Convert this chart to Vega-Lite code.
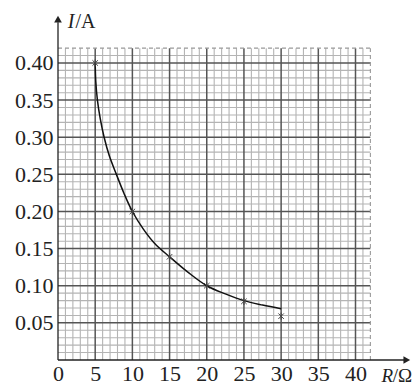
{
  "$schema": "https://vega.github.io/schema/vega-lite/v6.json",
  "autosize": "none",
  "width": 357,
  "height": 349,
  "padding": {"left": 58, "top": 11, "right": 4, "bottom": 27},
  "background": "white",
  "config": {"view": {"stroke": null}},
  "datasets": {
    "minorX": [{"v":1},{"v":2},{"v":3},{"v":4},{"v":6},{"v":7},{"v":8},{"v":9},{"v":11},{"v":12},{"v":13},{"v":14},{"v":16},{"v":17},{"v":18},{"v":19},{"v":21},{"v":22},{"v":23},{"v":24},{"v":26},{"v":27},{"v":28},{"v":29},{"v":31},{"v":32},{"v":33},{"v":34},{"v":36},{"v":37},{"v":38},{"v":39},{"v":41}],
    "majorX": [{"v":5},{"v":10},{"v":15},{"v":20},{"v":25},{"v":30},{"v":35},{"v":40}],
    "minorY": [{"v":0.01},{"v":0.02},{"v":0.03},{"v":0.04},{"v":0.06},{"v":0.07},{"v":0.08},{"v":0.09},{"v":0.11},{"v":0.12},{"v":0.13},{"v":0.14},{"v":0.16},{"v":0.17},{"v":0.18},{"v":0.19},{"v":0.21},{"v":0.22},{"v":0.23},{"v":0.24},{"v":0.26},{"v":0.27},{"v":0.28},{"v":0.29},{"v":0.31},{"v":0.32},{"v":0.33},{"v":0.34},{"v":0.36},{"v":0.37},{"v":0.38},{"v":0.39},{"v":0.41}],
    "majorY": [{"v":0.05},{"v":0.10},{"v":0.15},{"v":0.20},{"v":0.25},{"v":0.30},{"v":0.35},{"v":0.40}],
    "curve": [{"R":5,"I":0.40},{"R":5.08,"I":0.375},{"R":5.3,"I":0.35},{"R":5.68,"I":0.325},{"R":6.2,"I":0.30},{"R":6.9,"I":0.275},{"R":7.85,"I":0.25},{"R":8.85,"I":0.225},{"R":10,"I":0.20},{"R":11.5,"I":0.176},{"R":13,"I":0.157},{"R":15,"I":0.139},{"R":17.5,"I":0.118},{"R":20,"I":0.10},{"R":22.5,"I":0.089},{"R":25,"I":0.08},{"R":27.5,"I":0.074},{"R":30,"I":0.069}],
    "points": [{"R":5,"I":0.40},{"R":10,"I":0.20},{"R":15,"I":0.139},{"R":20,"I":0.10},{"R":25,"I":0.079},{"R":30,"I":0.059}]
  },
  "data": {"values": [{}]},
  "layer": [
    {
      "data": {"name": "minorX"},
      "mark": {"type": "rule", "color": "#b4b4b4", "strokeWidth": 1.1},
      "encoding": {
        "x": {"field": "v", "type": "quantitative", "scale": {"domain": [0, 48], "nice": false, "zero": false},
              "axis": {"values": [0,5,10,15,20,25,30,35,40], "title": null, "domain": false, "ticks": false, "grid": false,
                       "labelFont": "Liberation Serif", "labelFontSize": 22, "labelColor": "#222", "labelPadding": 3, "labelFlush": false, "labelOverlap": false}},
        "y": {"datum": 0, "type": "quantitative", "scale": {"domain": [0, 0.47], "nice": false, "zero": false},
              "axis": {"values": [0.05,0.10,0.15,0.20,0.25,0.30,0.35,0.40], "format": ".2f", "title": null, "domain": false, "ticks": false, "grid": false,
                       "labelFont": "Liberation Serif", "labelFontSize": 22, "labelColor": "#222", "labelPadding": 5, "labelFlush": false, "labelOverlap": false}},
        "y2": {"datum": 0.42}
      }
    },
    {
      "data": {"name": "minorY"},
      "mark": {"type": "rule", "color": "#b4b4b4", "strokeWidth": 1.1},
      "encoding": {
        "y": {"field": "v", "type": "quantitative"},
        "x": {"datum": 0, "type": "quantitative"},
        "x2": {"datum": 42}
      }
    },
    {
      "data": {"name": "majorX"},
      "mark": {"type": "rule", "color": "#555555", "strokeWidth": 1.5},
      "encoding": {
        "x": {"field": "v", "type": "quantitative"},
        "y": {"datum": 0, "type": "quantitative"},
        "y2": {"datum": 0.42}
      }
    },
    {
      "data": {"name": "majorY"},
      "mark": {"type": "rule", "color": "#555555", "strokeWidth": 1.5},
      "encoding": {
        "y": {"field": "v", "type": "quantitative"},
        "x": {"datum": 0, "type": "quantitative"},
        "x2": {"datum": 42}
      }
    },
    {
      "mark": {"type": "rule", "color": "#999999", "strokeWidth": 1.1, "strokeDash": [4, 3]},
      "encoding": {
        "y": {"datum": 0.42, "type": "quantitative"},
        "x": {"datum": 0, "type": "quantitative"},
        "x2": {"datum": 42}
      }
    },
    {
      "mark": {"type": "rule", "color": "#999999", "strokeWidth": 1.1, "strokeDash": [4, 3]},
      "encoding": {
        "x": {"datum": 42, "type": "quantitative"},
        "y": {"datum": 0, "type": "quantitative"},
        "y2": {"datum": 0.42}
      }
    },
    {
      "mark": {"type": "rule", "color": "#222222", "strokeWidth": 1.3},
      "encoding": {
        "y": {"datum": 0, "type": "quantitative"},
        "x": {"datum": 0, "type": "quantitative"},
        "x2": {"datum": 46.8}
      }
    },
    {
      "mark": {"type": "rule", "color": "#222222", "strokeWidth": 1.3},
      "encoding": {
        "x": {"datum": 0, "type": "quantitative"},
        "y": {"datum": 0, "type": "quantitative"},
        "y2": {"datum": 0.455}
      }
    },
    {
      "mark": {"type": "point", "shape": "triangle-right", "filled": true, "color": "#222222", "size": 60, "opacity": 1},
      "encoding": {
        "x": {"datum": 46.9, "type": "quantitative"},
        "y": {"datum": 0, "type": "quantitative"}
      }
    },
    {
      "mark": {"type": "point", "shape": "triangle-up", "filled": true, "color": "#222222", "size": 60, "opacity": 1},
      "encoding": {
        "x": {"datum": 0, "type": "quantitative"},
        "y": {"datum": 0.459, "type": "quantitative"}
      }
    },
    {
      "data": {"name": "curve"},
      "mark": {"type": "line", "color": "#111111", "strokeWidth": 1.5, "interpolate": "catmull-rom"},
      "encoding": {
        "x": {"field": "R", "type": "quantitative"},
        "y": {"field": "I", "type": "quantitative"}
      }
    },
    {
      "data": {"name": "points"},
      "mark": {"type": "point", "shape": "M-1,-1L1,1M-1,1L1,-1M0,-1.3L0,1.3", "filled": false, "color": "#444444", "strokeWidth": 1, "size": 30, "opacity": 1},
      "encoding": {
        "x": {"field": "R", "type": "quantitative"},
        "y": {"field": "I", "type": "quantitative"}
      }
    },
    {
      "mark": {"type": "text", "text": "I", "font": "Liberation Serif", "fontStyle": "italic", "fontSize": 20, "align": "left", "baseline": "alphabetic", "color": "#222"},
      "encoding": {
        "x": {"datum": 1.3, "type": "quantitative"},
        "y": {"datum": 0.447, "type": "quantitative"}
      }
    },
    {
      "mark": {"type": "text", "text": "/A", "font": "Liberation Serif", "fontSize": 20, "align": "left", "baseline": "alphabetic", "color": "#222"},
      "encoding": {
        "x": {"datum": 2.35, "type": "quantitative"},
        "y": {"datum": 0.447, "type": "quantitative"}
      }
    },
    {
      "mark": {"type": "text", "text": "R", "font": "Liberation Serif", "fontStyle": "italic", "fontSize": 19, "align": "left", "baseline": "alphabetic", "color": "#222"},
      "encoding": {
        "x": {"datum": 43.5, "type": "quantitative"},
        "y": {"datum": -0.029, "type": "quantitative"}
      }
    },
    {
      "mark": {"type": "text", "text": "/Ω", "font": "Liberation Serif", "fontSize": 19, "align": "left", "baseline": "alphabetic", "color": "#222"},
      "encoding": {
        "x": {"datum": 45.0, "type": "quantitative"},
        "y": {"datum": -0.029, "type": "quantitative"}
      }
    }
  ]
}
